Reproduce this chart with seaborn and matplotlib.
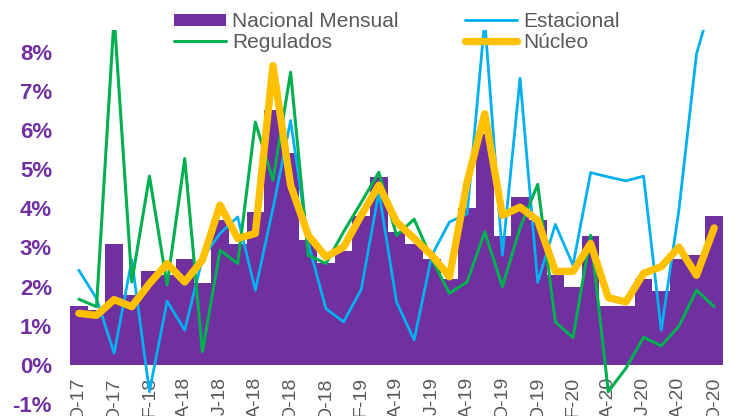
import numpy as np
import pandas as pd
import matplotlib
matplotlib.use("Agg")
import matplotlib.pyplot as plt
from matplotlib.patches import Patch
from matplotlib.lines import Line2D
import seaborn as sns

# ---------------- data ----------------
months = ["O-17", "N-17", "D-17", "E-18", "F-18", "M-18", "A-18", "M-18", "J-18", "J-18",
          "A-18", "S-18", "O-18", "N-18", "D-18", "E-19", "F-19", "M-19", "A-19", "M-19",
          "J-19", "J-19", "A-19", "S-19", "O-19", "N-19", "D-19", "E-20", "F-20", "M-20",
          "A-20", "M-20", "J-20", "J-20", "A-20", "S-20", "O-20"]
tick_labels = ["O-17", "D-17", "F-18", "A-18", "J-18", "A-18", "O-18", "D-18", "F-19", "A-19",
               "J-19", "A-19", "O-19", "D-19", "F-20", "A-20", "J-20", "A-20", "O-20"]
nacional = [1.5, 1.4, 3.1, 1.8, 2.4, 2.3, 2.7, 2.1, 3.7, 3.1, 3.9, 6.5, 5.4, 3.2, 2.6, 2.9,
            3.8, 4.8, 3.4, 3.1, 2.7, 2.2, 4.0, 5.9, 3.3, 4.3, 3.7, 2.3, 2.0, 3.3, 1.5, 1.5,
            2.2, 1.9, 2.7, 2.8, 3.8]
estacional = [2.42, 1.70, 0.30, 2.68, -0.68, 1.63, 0.89, 2.72, 3.36, 3.78, 1.91, 4.0, 6.24,
              3.1, 1.44, 1.10, 1.93, 4.42, 1.61, 0.64, 2.80, 3.65, 3.86, 8.8, 2.80, 7.32,
              2.11, 3.59, 2.55, 4.91, 4.80, 4.70, 4.82, 0.89, 3.95, 7.94, 9.5]
regulados = [1.68, 1.49, 8.9, 2.12, 4.82, 2.04, 5.27, 0.34, 2.93, 2.59, 6.20, 4.71, 7.47,
             2.80, 2.59, 3.40, 4.15, 4.92, 3.31, 3.72, 2.70, 1.83, 2.12, 3.40, 2.00, 3.50,
             4.61, 1.10, 0.70, 3.31, -0.68, -0.08, 0.71, 0.49, 0.99, 1.91, 1.49]
nucleo = [1.32, 1.27, 1.67, 1.49, 2.08, 2.59, 2.12, 2.68, 4.08, 3.23, 3.36, 7.64, 4.59,
          3.31, 2.76, 3.01, 3.82, 4.59, 3.65, 3.23, 2.80, 2.25, 4.67, 6.41, 3.82, 4.03,
          3.69, 2.39, 2.39, 3.10, 1.72, 1.61, 2.34, 2.51, 3.01, 2.29, 3.50]
y_ticks = [-1, 0, 1, 2, 3, 4, 5, 6, 7, 8]

PURPLE = "#7030A0"
GREEN = "#00B050"
BLUE = "#00B0F0"
YELLOW = "#FFC000"
GRAY = "#595959"

sns.set_style("white")
plt.rcParams["font.family"] = ["Liberation Sans", "DejaVu Sans"]

df = pd.DataFrame({"idx": np.arange(len(months)), "mes": months, "nacional": nacional,
                   "estacional": estacional, "regulados": regulados, "nucleo": nucleo})

fig = plt.figure(figsize=(7.34, 4.16), dpi=100)
ax = fig.add_axes([0.0954, 0.0282, 0.8896, 0.8998])

sns.barplot(data=df, x="idx", y="nacional", color=PURPLE, saturation=1, width=1.0,
            linewidth=0, ax=ax, native_scale=True)
sns.lineplot(data=df, x="idx", y="estacional", color=BLUE, linewidth=2.0, ax=ax,
             legend=False)
sns.lineplot(data=df, x="idx", y="regulados", color=GREEN, linewidth=2.2, ax=ax,
             legend=False)
sns.lineplot(data=df, x="idx", y="nucleo", color=YELLOW, linewidth=5.3, ax=ax,
             legend=False, solid_capstyle="round", solid_joinstyle="round")

ax.set_xlim(-0.5, len(months) - 0.5)
ax.set_ylim(-1, 8.55)
ax.set_xlabel("")
ax.set_ylabel("")
for s in ax.spines.values():
    s.set_visible(False)
ax.grid(False)

ax.set_yticks(y_ticks)
ax.set_yticklabels([f"{v}%" for v in y_ticks], fontsize=16, fontweight="bold", color=PURPLE)
ax.tick_params(axis="y", length=0, pad=13)

ax.set_xticks(np.arange(0, len(months), 2))
ax.set_xticklabels(tick_labels, rotation=90, fontsize=14, color=GRAY)
ax.tick_params(axis="x", length=0, pad=-19.5)

handles = [Patch(facecolor=PURPLE, edgecolor="none"),
           Line2D([], [], color=GREEN, linewidth=2.2),
           Line2D([], [], color=BLUE, linewidth=2.0),
           Line2D([], [], color=YELLOW, linewidth=5.3, solid_capstyle="round")]
labels = ["Nacional Mensual", "Regulados", "Estacional", "Núcleo"]
leg = fig.legend(handles, labels, ncol=2, loc="upper left",
                 bbox_to_anchor=(174 / 734, 1 - 12 / 416), frameon=False,
                 fontsize=15, borderpad=0, borderaxespad=0, handlelength=2.5,
                 handleheight=0.5, handletextpad=0.29, columnspacing=3.2,
                 labelspacing=0.1)
for t in leg.get_texts():
    t.set_color(GRAY)

fig.savefig("out.png", dpi=100, facecolor="white")
